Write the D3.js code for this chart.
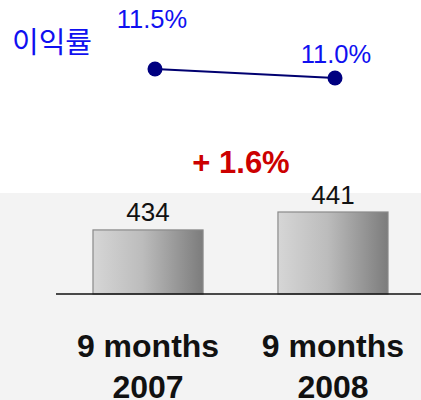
<!DOCTYPE html>
<html>
<head>
<meta charset="utf-8">
<script src="https://cdn.jsdelivr.net/npm/d3@7"></script>
<style>
  html, body { margin: 0; padding: 0; background: #fff; }
  svg { display: block; font-family: "Liberation Sans", Arial, sans-serif; }
</style>
</head>
<body>
<div id="chart"></div>
<script>
// Revenue bars + margin line (9 months 2007 vs 2008)
const periods = ['9 months 2007', '9 months 2008'];
const periodLines = [['9 months', '2007'], ['9 months', '2008']];
const revenue = [434, 441];
const margin = [11.5, 11.0];
const marginLabels = ['11.5%', '11.0%'];
const growthLabel = '+ 1.6%';
const marginTitle = '이익률';

const width = 421, height = 400;

const svg = d3.select('#chart').append('svg')
    .attr('width', width).attr('height', height);

const defs = svg.append('defs');
const grad = defs.append('linearGradient').attr('id', 'barGrad')
    .attr('x1', '0%').attr('x2', '100%').attr('y1', '0%').attr('y2', '0%');
grad.append('stop').attr('offset', '0%').attr('stop-color', '#d6d6d6');
grad.append('stop').attr('offset', '45%').attr('stop-color', '#bcbcbc');
grad.append('stop').attr('offset', '100%').attr('stop-color', '#7c7c7c');

// light grey panel under the chart
svg.append('rect').attr('x', 0).attr('y', 193).attr('width', width).attr('height', height - 193)
    .attr('fill', '#f3f3f3');

const x = d3.scaleBand().domain(periods).range([56, 425]).paddingInner(0.405).paddingOuter(0.2);

const baseY = 294;
const yBar = d3.scaleLinear().domain([409, 441]).range([baseY, 212]);

const bars = svg.append('g');
bars.selectAll('rect').data(revenue).enter().append('rect')
    .attr('x', (d, i) => x(periods[i]))
    .attr('y', d => yBar(d))
    .attr('width', x.bandwidth())
    .attr('height', d => baseY - yBar(d))
    .attr('fill', 'url(#barGrad)')
    .attr('stroke', '#8a8a8a').attr('stroke-width', 1.2);

bars.selectAll('text').data(revenue).enter().append('text')
    .attr('x', (d, i) => x(periods[i]) + x.bandwidth() / 2)
    .attr('y', d => yBar(d) - 8.5)
    .attr('text-anchor', 'middle')
    .attr('font-size', '26px').attr('fill', '#111')
    .text(d => d);

// baseline
svg.append('line').attr('x1', 56).attr('x2', 421).attr('y1', baseY).attr('y2', baseY)
    .attr('stroke', '#111').attr('stroke-width', 1.5);

// category labels
const cat = svg.append('g');
periodLines.forEach((lines, i) => {
    const cx = x(periods[i]) + x.bandwidth() / 2;
    lines.forEach((t, j) => {
        cat.append('text')
            .attr('x', cx).attr('y', 357 + j * 41)
            .attr('text-anchor', 'middle')
            .attr('font-size', '32px').attr('font-weight', 'bold').attr('fill', '#111')
            .text(t);
    });
});

// growth label
svg.append('text').attr('x', 241).attr('y', 173)
    .attr('text-anchor', 'middle')
    .attr('font-size', '31px').attr('font-weight', 'bold').attr('fill', '#cc0000')
    .text(growthLabel);

// margin line
const xLine = d3.scalePoint().domain(periods).range([155, 335]);
const yLine = d3.scaleLinear().domain([11.0, 11.5]).range([78, 69]);

svg.append('path')
    .datum(margin)
    .attr('d', d3.line().x((d, i) => xLine(periods[i])).y(d => yLine(d)))
    .attr('fill', 'none').attr('stroke', '#000070').attr('stroke-width', 2);

svg.selectAll('circle.pt').data(margin).enter().append('circle')
    .attr('class', 'pt')
    .attr('cx', (d, i) => xLine(periods[i]))
    .attr('cy', d => yLine(d))
    .attr('r', 7.5)
    .attr('fill', '#000080');

const labelOffsets = [[-3, -41], [1, -15]];
svg.selectAll('text.ml').data(marginLabels).enter().append('text')
    .attr('class', 'ml')
    .attr('x', (d, i) => xLine(periods[i]) + labelOffsets[i][0])
    .attr('y', (d, i) => yLine(margin[i]) + labelOffsets[i][1])
    .attr('text-anchor', 'middle')
    .attr('font-size', '25.5px').attr('fill', '#1010f0')
    .text(d => d);

svg.append('text').attr('x', 12).attr('y', 53)
    .attr('font-family', '"Noto Sans CJK KR", sans-serif')
    .attr('font-size', '29px').attr('fill', '#1010f0')
    .text(marginTitle);
</script>
</body>
</html>
